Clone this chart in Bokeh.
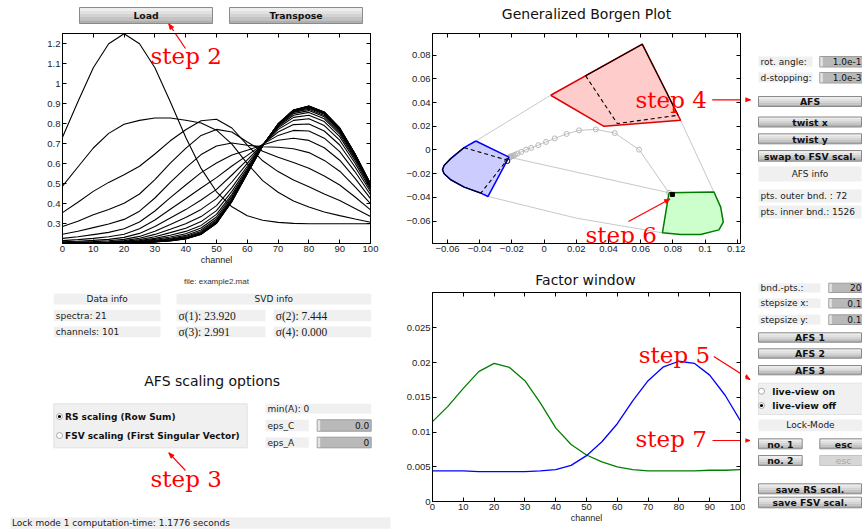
import math
from bokeh.plotting import figure
from bokeh.models import Range1d, FixedTicker, LinearAxis
from bokeh.layouts import row, column
from bokeh.embed import file_html
from bokeh.resources import INLINE
from bokeh.core.properties import value

# ---------------------------------------------------------------- data
channels = list(range(0, 101, 5))

spectra = [
    [0.733, 0.910, 1.080, 1.200, 1.250, 1.200, 1.080, 0.910, 0.733, 0.577, 0.460, 0.385, 0.340, 0.318, 0.307, 0.302, 0.300, 0.300, 0.300, 0.300, 0.300],
    [0.488, 0.584, 0.679, 0.752, 0.798, 0.817, 0.829, 0.829, 0.818, 0.804, 0.768, 0.698, 0.601, 0.516, 0.458, 0.414, 0.384, 0.359, 0.341, 0.324, 0.308],
    [0.356, 0.408, 0.462, 0.507, 0.545, 0.588, 0.649, 0.715, 0.770, 0.815, 0.823, 0.779, 0.693, 0.615, 0.561, 0.519, 0.485, 0.449, 0.416, 0.377, 0.337],
    [0.286, 0.313, 0.345, 0.372, 0.403, 0.449, 0.521, 0.603, 0.677, 0.742, 0.772, 0.759, 0.709, 0.663, 0.633, 0.606, 0.578, 0.539, 0.494, 0.434, 0.370],
    [0.248, 0.263, 0.281, 0.299, 0.322, 0.363, 0.429, 0.507, 0.580, 0.646, 0.689, 0.704, 0.693, 0.685, 0.683, 0.675, 0.656, 0.617, 0.563, 0.485, 0.401],
    [0.227, 0.235, 0.246, 0.257, 0.275, 0.309, 0.364, 0.431, 0.494, 0.556, 0.604, 0.644, 0.668, 0.694, 0.718, 0.728, 0.717, 0.680, 0.618, 0.527, 0.426],
    [0.216, 0.221, 0.227, 0.235, 0.248, 0.275, 0.319, 0.373, 0.425, 0.479, 0.531, 0.589, 0.642, 0.697, 0.742, 0.767, 0.764, 0.728, 0.661, 0.560, 0.445],
    [0.210, 0.213, 0.217, 0.222, 0.232, 0.252, 0.286, 0.329, 0.371, 0.419, 0.472, 0.544, 0.620, 0.697, 0.759, 0.796, 0.799, 0.764, 0.694, 0.584, 0.460],
    [0.207, 0.209, 0.211, 0.215, 0.222, 0.237, 0.263, 0.296, 0.331, 0.372, 0.426, 0.509, 0.602, 0.696, 0.772, 0.817, 0.825, 0.791, 0.718, 0.603, 0.471],
    [0.206, 0.206, 0.208, 0.210, 0.216, 0.228, 0.247, 0.273, 0.300, 0.336, 0.391, 0.481, 0.588, 0.695, 0.780, 0.832, 0.843, 0.811, 0.736, 0.616, 0.479],
    [0.205, 0.205, 0.206, 0.208, 0.212, 0.221, 0.235, 0.256, 0.278, 0.311, 0.366, 0.462, 0.578, 0.694, 0.786, 0.843, 0.857, 0.825, 0.748, 0.626, 0.485],
    [0.205, 0.205, 0.205, 0.207, 0.210, 0.216, 0.227, 0.243, 0.262, 0.292, 0.347, 0.447, 0.570, 0.693, 0.790, 0.851, 0.866, 0.835, 0.757, 0.633, 0.490],
    [0.204, 0.204, 0.205, 0.206, 0.208, 0.213, 0.222, 0.234, 0.250, 0.279, 0.334, 0.437, 0.564, 0.692, 0.793, 0.857, 0.873, 0.842, 0.764, 0.638, 0.493],
    [0.204, 0.204, 0.204, 0.205, 0.207, 0.211, 0.218, 0.228, 0.242, 0.269, 0.324, 0.429, 0.560, 0.692, 0.795, 0.861, 0.878, 0.848, 0.769, 0.641, 0.495],
    [0.204, 0.204, 0.204, 0.204, 0.206, 0.209, 0.215, 0.224, 0.236, 0.262, 0.317, 0.423, 0.557, 0.691, 0.797, 0.863, 0.882, 0.851, 0.772, 0.644, 0.496],
    [0.204, 0.204, 0.204, 0.204, 0.206, 0.208, 0.213, 0.221, 0.232, 0.257, 0.312, 0.420, 0.555, 0.691, 0.798, 0.865, 0.884, 0.854, 0.774, 0.646, 0.497],
    [0.204, 0.204, 0.204, 0.204, 0.206, 0.208, 0.211, 0.218, 0.229, 0.254, 0.309, 0.417, 0.554, 0.691, 0.798, 0.867, 0.886, 0.856, 0.776, 0.647, 0.498],
    [0.204, 0.204, 0.204, 0.204, 0.205, 0.207, 0.210, 0.217, 0.227, 0.251, 0.306, 0.415, 0.553, 0.690, 0.799, 0.868, 0.887, 0.857, 0.777, 0.648, 0.499],
    [0.204, 0.204, 0.204, 0.204, 0.205, 0.207, 0.210, 0.216, 0.226, 0.249, 0.304, 0.413, 0.552, 0.690, 0.799, 0.868, 0.888, 0.858, 0.778, 0.648, 0.499],
    [0.204, 0.204, 0.204, 0.204, 0.205, 0.207, 0.209, 0.215, 0.225, 0.248, 0.303, 0.412, 0.551, 0.690, 0.799, 0.869, 0.889, 0.858, 0.779, 0.649, 0.499],
    [0.204, 0.204, 0.204, 0.204, 0.205, 0.206, 0.209, 0.214, 0.224, 0.247, 0.302, 0.411, 0.551, 0.690, 0.800, 0.869, 0.889, 0.859, 0.779, 0.649, 0.500],
]

factor_green = [0.0115, 0.0137, 0.0163, 0.0187, 0.0199, 0.0193, 0.0174, 0.0142, 0.0106, 0.0082, 0.0067,
                0.0057, 0.0050, 0.0046, 0.0044, 0.0044, 0.0044, 0.0044, 0.0045, 0.0045, 0.0046]
factor_blue = [0.0044, 0.0044, 0.0044, 0.0043, 0.0043, 0.0043, 0.0043, 0.0044, 0.0046, 0.0052, 0.0066,
               0.0086, 0.0112, 0.0145, 0.0174, 0.0194, 0.0202, 0.0199, 0.0182, 0.0153, 0.0116]

# Borgen plot
traj_x = [0.0776, 0.0590, 0.0439, 0.0321, 0.0217, 0.0140, 0.0066, 0.0012, -0.0036, -0.0080, -0.0112,
          -0.0142, -0.0165, -0.0180, -0.0191, -0.0199, -0.0204, -0.0208, -0.0211, -0.0213, -0.0215]
traj_y = [-0.0361, 0.0003, 0.0143, 0.0174, 0.0166, 0.0135, 0.0098, 0.0068, 0.0041, 0.0018, 0.0003,
          -0.0016, -0.0030, -0.0040, -0.0047, -0.0052, -0.0055, -0.0057, -0.0059, -0.0060, -0.0061]

red_x = [0.0041, 0.0610, 0.0848, 0.0372]
red_y = [0.0462, 0.0893, 0.0251, 0.0200]
red_solid_x = [0.0258, 0.0610, 0.0832]
red_solid_y = [0.0626, 0.0893, 0.0293]
red_dash_x = [0.0258, 0.0455, 0.0832]
red_dash_y = [0.0626, 0.0223, 0.0293]

blue_x = [-0.0424, -0.0218, -0.0348, -0.0393, -0.0497, -0.0580, -0.0621, -0.0631, -0.0621, -0.0580, -0.0497]
blue_y = [0.0076, -0.0060, -0.0392, -0.0364, -0.0313, -0.0251, -0.0200, -0.0166, -0.0130, -0.0073, 0.0020]
blue_solid_x = [-0.0497, -0.0580, -0.0621, -0.0631, -0.0621, -0.0580, -0.0497, -0.0393]
blue_solid_y = [0.0020, -0.0073, -0.0130, -0.0166, -0.0200, -0.0251, -0.0313, -0.0364]
blue_dash_x = [-0.0497, -0.0230, -0.0393]
blue_dash_y = [0.0020, -0.0085, -0.0364]

green_x = [0.0776, 0.1055, 0.1097, 0.1113, 0.1086, 0.0972, 0.0848, 0.0735]
green_y = [-0.0361, -0.0355, -0.0482, -0.0609, -0.0674, -0.0713, -0.0713, -0.0699]

connect_xs = [[0.0041, -0.0424], [0.0848, 0.1055], [-0.0215, 0.0776], [-0.0348, 0.0200, 0.0735]]
connect_ys = [[0.0462, 0.0076], [0.0251, -0.0355], [-0.0061, -0.0361], [-0.0392, -0.0575, -0.0699]]

marker_sq = (0.0797, -0.0375)
marker_circ = (-0.0228, -0.0093)

# ticks
ch_ticks = list(range(0, 101, 10))
sp_yticks = [0.3, 0.4, 0.5, 0.6, 0.7, 0.8, 0.9, 1.0, 1.1, 1.2]
sp_ylabels = ["0.3", "0.4", "0.5", "0.6", "0.7", "0.8", "0.9", "1", "1.1", "1.2"]
bg_xticks = [-0.06, -0.04, -0.02, 0, 0.02, 0.04, 0.06, 0.08, 0.1, 0.12]
bg_xlabels = ["\u22120.06", "\u22120.04", "\u22120.02", "0", "0.02", "0.04", "0.06", "0.08", "0.1", "0.12"]
bg_yticks = [-0.06, -0.04, -0.02, 0, 0.02, 0.04, 0.06, 0.08]
bg_ylabels = ["\u22120.06", "\u22120.04", "\u22120.02", "0", "0.02", "0.04", "0.06", "0.08"]
fw_yticks = [0, 0.005, 0.01, 0.015, 0.02, 0.025]
fw_ylabels = ["0", "0.005", "0.01", "0.015", "0.02", "0.025"]

# info texts
n_spectra = 21
n_channels = 101
sigma = [23.920, 7.444, 2.991, 0.000]
pts_outer = 72
pts_inner = 1526
comp_time = 1.1776

# ---------------------------------------------------------------- helpers
SANS = "DejaVu Sans"
AXF = "Liberation Sans"
SERIF_STEP = "DejaVu Serif"
RED = "#ff0000"
ident = lambda v: v


def canvas(x0, y0, w, h):
    p = figure(width=w, height=h, x_range=Range1d(x0, x0 + w), y_range=Range1d(y0 + h, y0),
               toolbar_location=None, output_backend="svg", min_border=0, title=None,
               x_axis_location=None, y_axis_location=None)
    p.xgrid.visible = False
    p.ygrid.visible = False
    p.outline_line_color = None
    p.background_fill_color = "white"
    p.border_fill_color = "white"
    return p


def axes_fig(w, h, xr, yr, left, right, top, bottom):
    p = figure(width=w, height=h, x_range=Range1d(*xr), y_range=Range1d(*yr),
               toolbar_location=None, output_backend="svg", title=None,
               min_border_left=left, min_border_right=right,
               min_border_top=top, min_border_bottom=bottom)
    p.xgrid.visible = False
    p.ygrid.visible = False
    p.outline_line_color = "black"
    p.background_fill_color = "white"
    p.border_fill_color = "white"
    return p


def style_axis(ax, ticks, labels=None):
    ax.ticker = FixedTicker(ticks=ticks)
    if labels is not None:
        ax.major_label_overrides = {t: l for t, l in zip(ticks, labels)}
    ax.major_tick_in = 4
    ax.major_tick_out = 0
    ax.minor_tick_in = 0
    ax.minor_tick_out = 0
    ax.axis_line_color = "black"
    ax.major_tick_line_color = "black"
    ax.major_label_text_font = AXF
    ax.major_label_text_font_size = "9.5px"
    ax.major_label_text_color = "#222222"
    ax.major_label_standoff = 2


def box_ticks(p, xticks, yticks):
    # inward ticks on the top and right edges of the box, no labels
    for loc, ticks in (("above", xticks), ("right", yticks)):
        ax = LinearAxis(ticker=FixedTicker(ticks=ticks), major_tick_in=4, major_tick_out=0,
                        minor_tick_in=0, minor_tick_out=0, major_label_text_font_size="1px",
                        major_label_text_color=None, major_label_standoff=0,
                        axis_line_color="black", major_tick_line_color="black")
        p.add_layout(ax, loc)


def axis_label(ax, text):
    ax.axis_label = text
    ax.axis_label_text_font = AXF
    ax.axis_label_text_font_size = "9px"
    ax.axis_label_text_font_style = "normal"
    ax.axis_label_text_color = "#222222"
    ax.axis_label_standoff = 0


def mapper(frame, rng):
    fx0, fx1, fy0, fy1 = frame
    x0, x1, y0, y1 = rng
    mx = lambda px: x0 + (px - fx0) / (fx1 - fx0) * (x1 - x0)
    my = lambda py: y1 - (py - fy0) / (fy1 - fy0) * (y1 - y0)
    return mx, my


def txt(p, x, y, s, size="9px", font=SANS, align="left", baseline="middle",
        color="#1a1a1a", style="normal"):
    p.text(x=[x], y=[y], text=[s], text_font=value(font), text_font_size=value(size),
           text_align=align, text_baseline=baseline, text_color=color, text_font_style=style)


def step_text(p, mx, my, x, y, s):
    # y is the vertical centre of the digit
    txt(p, mx(x), my(y), s, size="23px", font=SERIF_STEP, baseline="middle", color=RED)


def arrow(p, mx, my, x0, y0, x1, y1, head=True):
    p.line([mx(x0), mx(x1)], [my(y0), my(y1)], line_color=RED, line_width=1.2)
    if head:
        L = math.hypot(x1 - x0, y1 - y0)
        ux, uy = (x1 - x0) / L, (y1 - y0) / L
        hl, hw = 5.5, 2.2
        bx0, by0 = x1 - hl * ux, y1 - hl * uy
        xs = [x1, bx0 - hw * uy, bx0 + hw * uy]
        ys = [y1, by0 + hw * ux, by0 - hw * ux]
        p.patch([mx(v) for v in xs], [my(v) for v in ys], fill_color=RED,
                line_color=RED, line_width=0.8)


def box(p, x0, y0, x1, y1, fill="#f0f0f0", line=None):
    p.quad(left=[x0], right=[x1], top=[y0], bottom=[y1], fill_color=fill, line_color=line)


def label_box(p, x0, y0, x1, y1, s, align="left", font=SANS, size="9px"):
    box(p, x0, y0, x1, y1)
    if align == "center":
        txt(p, (x0 + x1) / 2, (y0 + y1) / 2, s, align="center", font=font, size=size)
    else:
        txt(p, x0 + 2, (y0 + y1) / 2, s, font=font, size=size)


BANDS = ["#ededed", "#e1e1e1", "#d3d3d3", "#c3c3c3", "#afafaf"]


def button(p, x0, y0, x1, y1, s, enabled=True, tx=None):
    cx = (x0 + x1) / 2 if tx is None else tx
    if enabled:
        n = len(BANDS)
        h = (y1 - y0) / n
        p.quad(left=[x0] * n, right=[x1] * n, top=[y0 + i * h for i in range(n)],
               bottom=[y0 + (i + 1) * h for i in range(n)], fill_color=BANDS, line_color=None)
        p.quad(left=[x0], right=[x1], top=[y0], bottom=[y1], fill_color=None,
               line_color="#8a8a8a", line_width=1)
        txt(p, cx, (y0 + y1) / 2 + 0.3, s, size="9.3px", align="center", style="bold", color="#111111")
    else:
        p.quad(left=[x0], right=[x1], top=[y0], bottom=[y1], fill_color="#d6d6d6",
               line_color="#c4c4c4")
        txt(p, cx, (y0 + y1) / 2 + 0.3, s, size="9.3px", align="center", color="#a9a9a9")


def edit(p, x0, y0, x1, y1, s, tx=None):
    p.quad(left=[x0], right=[x1], top=[y0], bottom=[y1], fill_color="#b9b9b9", line_color="#9c9c9c")
    p.quad(left=[x0 + 0.5], right=[x0 + 3], top=[y0 + 0.5], bottom=[y1 - 0.5],
           fill_color="#e4e4e4", line_color=None)
    txt(p, (x1 - 2) if tx is None else tx, (y0 + y1) / 2, s, align="right", color="#111111")


def radio(p, x, y, selected):
    p.scatter([x], [y], size=6, marker="circle", fill_color="white", line_color="#a8a8a8", line_width=1)
    if selected:
        p.scatter([x], [y], size=3.2, marker="circle", fill_color="black", line_color=None)


# ---------------------------------------------------------------- left column
L1 = canvas(0, 0, 392, 31)
button(L1, 79, 7, 212, 23, "Load")
button(L1, 229, 7, 362, 23, "Transpose")
arrow(L1, ident, ident, 185, 48, 168.3, 23.3)

SP_FRAME = (62, 370, 33, 243)
SP_RANGE = (0, 100, 0.2015, 1.2515)
sp = axes_fig(392, 237, SP_RANGE[:2], SP_RANGE[2:], 62, 22, 2, 25)
sp.multi_line(xs=[channels] * len(spectra), ys=spectra, line_color="black", line_width=1.1)
style_axis(sp.xaxis[0], ch_ticks)
style_axis(sp.yaxis[0], sp_yticks, sp_ylabels)
axis_label(sp.xaxis[0], "channel")
box_ticks(sp, ch_ticks, sp_yticks)
smx, smy = mapper(SP_FRAME, SP_RANGE)
arrow(sp, smx, smy, 185, 48, 168.3, 23.3, head=False)
step_text(sp, smx, smy, 150, 55.5, "step 2")

L3 = canvas(0, 268, 392, 263)
txt(L3, 216, 281, "file: example2.mat", size="8px", font=AXF, align="center", color="#333333")
label_box(L3, 53.3, 293.3, 160, 304, "Data info", align="center")
label_box(L3, 176, 293.3, 370.7, 304, "SVD info", align="center")
rows = [(309.3, 320.7), (326, 336.7)]
label_box(L3, 53.3, rows[0][0], 160, rows[0][1], f"spectra: {n_spectra}")
label_box(L3, 53.3, rows[1][0], 160, rows[1][1], f"channels: {n_channels}")
for i, s in enumerate(sigma):
    r = rows[i // 2]
    if i % 2 == 0:
        x0, x1 = 176, 265
    else:
        x0, x1 = 273.3, 370.7
    label_box(L3, x0, r[0], x1, r[1], f"\u03c3({i + 1}): {s:.3f}", font="Liberation Serif", size="11.5px")

txt(L3, 211.7, 380.5, "AFS scaling options", size="14px", align="center", color="#111111")
box(L3, 53.3, 403.3, 246.7, 447.3, fill="#f0f0f0", line="#e2e2e2")
radio(L3, 59, 416, True)
txt(L3, 64.5, 416, "RS scaling (Row Sum)", size="9px", style="bold", color="#111111")
radio(L3, 59, 435, False)
txt(L3, 64.5, 435, "FSV scaling (First Singular Vector)", size="9px", style="bold", color="#111111")
label_box(L3, 265, 403.3, 370.7, 413.3, "min(A): 0")
label_box(L3, 265, 419.3, 308.3, 430.7, "eps_C")
edit(L3, 316.7, 419.3, 370.7, 430.7, "0.0")
label_box(L3, 265, 436.7, 308.3, 447.3, "eps_A")
edit(L3, 316.7, 436.7, 370.7, 447.3, "0")
step_text(L3, ident, ident, 150, 478, "step 3")
arrow(L3, ident, ident, 185, 470, 168.3, 452.3)
box(L3, 10, 516.7, 390, 528.3)
txt(L3, 11.5, 522.5, f"Lock mode 1 computation-time: {comp_time:.4f} seconds")

left_col = column(row(L1), row(sp), row(L3), spacing=0)

# ---------------------------------------------------------------- middle column
M1 = canvas(392, 0, 353, 31)
txt(M1, 586, 13, "Generalized Borgen Plot", size="14px", align="center", color="#111111")

BG_FRAME = (432, 740, 33, 243)
BG_RANGE = (-0.0693, 0.122, -0.0789, 0.0983)
bg = axes_fig(353, 231, BG_RANGE[:2], BG_RANGE[2:], 40, 5, 2, 19)
style_axis(bg.xaxis[0], bg_xticks, bg_xlabels)
style_axis(bg.yaxis[0], bg_yticks, bg_ylabels)
box_ticks(bg, bg_xticks, bg_yticks)
bg.multi_line(xs=connect_xs, ys=connect_ys, line_color="#c8c8c8", line_width=1)
bg.line(traj_x, traj_y, line_color="#c4c4c4", line_width=1)
bg.scatter(traj_x, traj_y, size=5, marker="circle", fill_color=None, line_color="#b8b8b8", line_width=1)
bg.patch(red_x, red_y, fill_color="#ffcccc", line_color=None)
bg.patch(blue_x, blue_y, fill_color="#ccccff", line_color=None)
bg.patch(green_x, green_y, fill_color="#ccffcc", line_color=None)
bg.line(red_x + red_x[:1], red_y + red_y[:1], line_color="#e00000", line_width=1.5)
bg.line(blue_x + blue_x[:1], blue_y + blue_y[:1], line_color="#0000ff", line_width=1.5)
bg.line(green_x + green_x[:1], green_y + green_y[:1], line_color="#007a00", line_width=1.5)
bg.line(red_solid_x, red_solid_y, line_color="black", line_width=1.1)
bg.line(blue_solid_x, blue_solid_y, line_color="black", line_width=1.1)
bg.line(red_dash_x, red_dash_y, line_color="black", line_width=1.1, line_dash="4 3")
bg.line(blue_dash_x, blue_dash_y, line_color="black", line_width=1.1, line_dash="4 3")
bg.scatter([marker_sq[0]], [marker_sq[1]], size=4, marker="square", fill_color="black", line_color="black")
bg.scatter([marker_circ[0]], [marker_circ[1]], size=5, marker="circle", fill_color=None, line_color="black", line_width=1)
bmx, bmy = mapper(BG_FRAME, BG_RANGE)
step_text(bg, bmx, bmy, 635, 99.2, "step 4")
arrow(bg, bmx, bmy, 711.7, 99.3, 750, 99.3, head=False)
step_text(bg, bmx, bmy, 585, 234, "step 6")
arrow(bg, bmx, bmy, 628, 221, 669.5, 198.5)

M3 = canvas(392, 262, 353, 28)
txt(M3, 585, 279.5, "Factor window", size="14px", align="center", color="#111111")

FW_FRAME = (432, 740, 292, 501)
FW_RANGE = (0, 100, 0, 0.0301)
fw = axes_fig(353, 241, FW_RANGE[:2], FW_RANGE[2:], 40, 5, 2, 30)
style_axis(fw.xaxis[0], ch_ticks)
style_axis(fw.yaxis[0], fw_yticks, fw_ylabels)
axis_label(fw.xaxis[0], "channel")
box_ticks(fw, ch_ticks, fw_yticks)
fw.line(channels, factor_green, line_color="#007f00", line_width=1.3)
fw.line(channels, factor_blue, line_color="#0000ff", line_width=1.3)
fmx, fmy = mapper(FW_FRAME, FW_RANGE)
step_text(fw, fmx, fmy, 638.3, 354, "step 5")
arrow(fw, fmx, fmy, 713.3, 356, 749.5, 379, head=False)
step_text(fw, fmx, fmy, 635, 438.5, "step 7")
arrow(fw, fmx, fmy, 712, 440, 749.5, 440, head=False)

mid_col = column(row(M1), row(bg), row(M3), row(fw), spacing=0)

# ---------------------------------------------------------------- right column
R = canvas(745, 0, 117, 531)
arrow(R, ident, ident, 711.7, 99.3, 750, 99.3)
arrow(R, ident, ident, 713.3, 356, 749.5, 379)
arrow(R, ident, ident, 712, 440, 749.5, 440)

label_box(R, 758, 56, 812, 66, "rot. angle:")
edit(R, 819.3, 56, 863, 66.5, "1.0e-1", tx=861)
label_box(R, 758, 72, 812, 82, "d-stopping:")
edit(R, 819.3, 72, 863, 82.5, "1.0e-3", tx=861)
button(R, 758, 96, 861, 106, "AFS")
button(R, 758, 116.5, 861, 126.5, "twist x")
button(R, 758, 133.3, 861, 143.3, "twist y")
button(R, 758, 150, 861, 160.7, "swap to FSV scal.")
label_box(R, 758, 166, 861, 181, "AFS info", align="center")
label_box(R, 758, 189, 861, 202, f"pts. outer bnd. : {pts_outer}")
label_box(R, 758, 205, 861, 218, f"pts. inner bnd.: {pts_inner}")

label_box(R, 758, 282.7, 820, 292, "bnd.-pts.:")
edit(R, 828.3, 282.7, 863, 292, "20", tx=861)
label_box(R, 758, 298, 820, 307.5, "stepsize x:")
edit(R, 828.3, 298, 863, 307.5, "0.1", tx=861)
label_box(R, 758, 314.3, 820, 324, "stepsize y:")
edit(R, 828.3, 314.3, 863, 324, "0.1", tx=861)
button(R, 758, 332.3, 861, 341.7, "AFS 1")
button(R, 758, 348.3, 861, 357.7, "AFS 2")
button(R, 758, 365, 861, 374.3, "AFS 3")
box(R, 758, 382.7, 863, 414, fill="#f0f0f0", line="#e2e2e2")
radio(R, 761, 390.7, False)
txt(R, 771.7, 390.7, "live-view on", size="9.3px", style="bold", color="#111111")
radio(R, 761, 405, True)
txt(R, 771.7, 405, "live-view off", size="9.3px", style="bold", color="#111111")
box(R, 758, 419, 863, 430.7)
txt(R, 810, 424.8, "Lock-Mode", align="center")
button(R, 758, 438.3, 801.7, 448.3, "no. 1")
button(R, 819.3, 438.3, 863, 448.3, "esc", tx=843)
button(R, 758, 455, 801.7, 465, "no. 2")
button(R, 819.3, 455, 863, 465, "esc", enabled=False, tx=843)
button(R, 758, 483.3, 861, 493.3, "save RS scal.")
button(R, 758, 496.7, 861, 507.3, "save FSV scal.")

root = row(left_col, mid_col, R, spacing=0)

open("out.html", "w").write(file_html(root, INLINE))
